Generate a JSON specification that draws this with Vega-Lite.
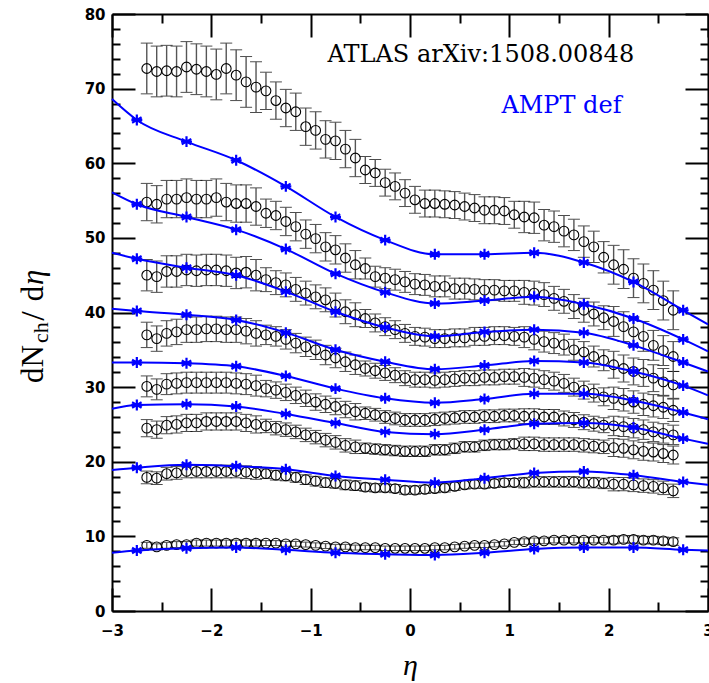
{
"$schema":"https://vega.github.io/schema/vega-lite/v6.json",
"width":596,"height":597,
"autosize":{"type":"none"},
"padding":{"left":112,"top":14,"right":1,"bottom":72},
"background":"white",
"config":{"view":{"stroke":null},"axis":{"grid":false,"domainColor":"black","domainWidth":2,"tickColor":"black","tickWidth":2,"labelFont":"DejaVu Sans","labelFontWeight":"bold","labelFontSize":15,"labelColor":"black","labelFlush":false,"labelOverlap":false}},
"datasets":{
"atlas":[
{"s":1,"x":-2.65,"y":72.7,"e":3.4},{"s":1,"x":-2.55,"y":72.3,"e":3.4},{"s":1,"x":-2.45,"y":72.4,"e":3.4},{"s":1,"x":-2.35,"y":72.3,"e":3.4},{"s":1,"x":-2.25,"y":72.9,"e":3.4},{"s":1,"x":-2.15,"y":72.6,"e":3.4},{"s":1,"x":-2.05,"y":72.3,"e":3.4},{"s":1,"x":-1.95,"y":71.9,"e":3.4},{"s":1,"x":-1.85,"y":72.7,"e":3.4},{"s":1,"x":-1.75,"y":71.8,"e":3.4},{"s":1,"x":-1.65,"y":70.9,"e":3.4},{"s":1,"x":-1.55,"y":70.2,"e":3.4},{"s":1,"x":-1.45,"y":69.7,"e":2.5},{"s":1,"x":-1.35,"y":68.4,"e":2.5},{"s":1,"x":-1.25,"y":67.4,"e":2.5},{"s":1,"x":-1.15,"y":66.9,"e":2.5},{"s":1,"x":-1.05,"y":64.9,"e":2.5},{"s":1,"x":-0.95,"y":64.4,"e":2.5},{"s":1,"x":-0.85,"y":63.2,"e":2.5},{"s":1,"x":-0.75,"y":63.0,"e":2.5},{"s":1,"x":-0.65,"y":61.9,"e":2.5},{"s":1,"x":-0.55,"y":60.7,"e":2.5},{"s":1,"x":-0.45,"y":59.1,"e":1.8},{"s":1,"x":-0.35,"y":58.7,"e":1.8},{"s":1,"x":-0.25,"y":57.4,"e":1.8},{"s":1,"x":-0.15,"y":56.9,"e":1.8},{"s":1,"x":-0.05,"y":56.0,"e":1.8},{"s":1,"x":0.05,"y":55.1,"e":1.8},{"s":1,"x":0.15,"y":54.6,"e":1.8},{"s":1,"x":0.25,"y":54.6,"e":1.8},{"s":1,"x":0.35,"y":54.5,"e":1.8},{"s":1,"x":0.45,"y":54.4,"e":1.8},{"s":1,"x":0.55,"y":54.2,"e":1.8},{"s":1,"x":0.65,"y":54.0,"e":1.8},{"s":1,"x":0.75,"y":53.7,"e":1.8},{"s":1,"x":0.85,"y":53.7,"e":1.8},{"s":1,"x":0.95,"y":53.6,"e":1.8},{"s":1,"x":1.05,"y":53.1,"e":1.8},{"s":1,"x":1.15,"y":52.8,"e":2.1},{"s":1,"x":1.25,"y":52.7,"e":2.1},{"s":1,"x":1.35,"y":51.7,"e":2.1},{"s":1,"x":1.45,"y":51.5,"e":2.1},{"s":1,"x":1.55,"y":50.9,"e":2.1},{"s":1,"x":1.65,"y":50.4,"e":2.1},{"s":1,"x":1.75,"y":49.5,"e":2.1},{"s":1,"x":1.85,"y":48.8,"e":2.1},{"s":1,"x":1.95,"y":47.4,"e":2.1},{"s":1,"x":2.05,"y":46.4,"e":2.6},{"s":1,"x":2.15,"y":45.8,"e":2.6},{"s":1,"x":2.25,"y":44.6,"e":2.6},{"s":1,"x":2.35,"y":43.9,"e":2.6},{"s":1,"x":2.45,"y":43.0,"e":2.6},{"s":1,"x":2.55,"y":41.6,"e":2.6},{"s":1,"x":2.65,"y":40.3,"e":2.6},
{"s":2,"x":-2.65,"y":54.8,"e":2.5},{"s":2,"x":-2.55,"y":54.5,"e":2.5},{"s":2,"x":-2.45,"y":55.2,"e":2.5},{"s":2,"x":-2.35,"y":55.2,"e":2.5},{"s":2,"x":-2.25,"y":55.4,"e":2.5},{"s":2,"x":-2.15,"y":55.2,"e":2.5},{"s":2,"x":-2.05,"y":55.2,"e":2.5},{"s":2,"x":-1.95,"y":55.4,"e":2.5},{"s":2,"x":-1.85,"y":54.8,"e":2.5},{"s":2,"x":-1.75,"y":54.6,"e":2.5},{"s":2,"x":-1.65,"y":54.6,"e":2.5},{"s":2,"x":-1.55,"y":54.2,"e":2.5},{"s":2,"x":-1.45,"y":53.3,"e":1.9},{"s":2,"x":-1.35,"y":53.0,"e":1.9},{"s":2,"x":-1.25,"y":52.2,"e":1.9},{"s":2,"x":-1.15,"y":51.5,"e":1.9},{"s":2,"x":-1.05,"y":50.5,"e":1.9},{"s":2,"x":-0.95,"y":49.9,"e":1.9},{"s":2,"x":-0.85,"y":48.8,"e":1.9},{"s":2,"x":-0.75,"y":48.4,"e":1.9},{"s":2,"x":-0.65,"y":47.3,"e":1.9},{"s":2,"x":-0.55,"y":46.4,"e":1.9},{"s":2,"x":-0.45,"y":45.9,"e":1.4},{"s":2,"x":-0.35,"y":44.8,"e":1.4},{"s":2,"x":-0.25,"y":44.6,"e":1.4},{"s":2,"x":-0.15,"y":44.4,"e":1.4},{"s":2,"x":-0.05,"y":44.1,"e":1.4},{"s":2,"x":0.05,"y":43.8,"e":1.4},{"s":2,"x":0.15,"y":43.7,"e":1.4},{"s":2,"x":0.25,"y":43.5,"e":1.4},{"s":2,"x":0.35,"y":43.5,"e":1.4},{"s":2,"x":0.45,"y":43.2,"e":1.4},{"s":2,"x":0.55,"y":43.2,"e":1.4},{"s":2,"x":0.65,"y":43.1,"e":1.4},{"s":2,"x":0.75,"y":43.0,"e":1.4},{"s":2,"x":0.85,"y":43.0,"e":1.4},{"s":2,"x":0.95,"y":42.9,"e":1.4},{"s":2,"x":1.05,"y":42.9,"e":1.4},{"s":2,"x":1.15,"y":42.7,"e":1.6},{"s":2,"x":1.25,"y":42.6,"e":1.6},{"s":2,"x":1.35,"y":42.4,"e":1.6},{"s":2,"x":1.45,"y":41.9,"e":1.6},{"s":2,"x":1.55,"y":41.5,"e":1.6},{"s":2,"x":1.65,"y":40.8,"e":1.6},{"s":2,"x":1.75,"y":40.3,"e":1.6},{"s":2,"x":1.85,"y":39.8,"e":1.6},{"s":2,"x":1.95,"y":39.3,"e":1.6},{"s":2,"x":2.05,"y":38.8,"e":2.0},{"s":2,"x":2.15,"y":38.1,"e":2.0},{"s":2,"x":2.25,"y":37.4,"e":2.0},{"s":2,"x":2.35,"y":36.8,"e":2.0},{"s":2,"x":2.45,"y":35.6,"e":2.0},{"s":2,"x":2.55,"y":34.9,"e":2.0},{"s":2,"x":2.65,"y":34.1,"e":2.0},
{"s":3,"x":-2.65,"y":45.0,"e":2.1},{"s":3,"x":-2.55,"y":44.8,"e":2.1},{"s":3,"x":-2.45,"y":45.5,"e":2.1},{"s":3,"x":-2.35,"y":45.5,"e":2.1},{"s":3,"x":-2.25,"y":45.7,"e":2.1},{"s":3,"x":-2.15,"y":45.6,"e":2.1},{"s":3,"x":-2.05,"y":45.7,"e":2.1},{"s":3,"x":-1.95,"y":45.7,"e":2.1},{"s":3,"x":-1.85,"y":45.6,"e":2.1},{"s":3,"x":-1.75,"y":45.3,"e":2.1},{"s":3,"x":-1.65,"y":45.4,"e":2.1},{"s":3,"x":-1.55,"y":45.0,"e":2.1},{"s":3,"x":-1.45,"y":44.4,"e":1.6},{"s":3,"x":-1.35,"y":44.0,"e":1.6},{"s":3,"x":-1.25,"y":43.7,"e":1.6},{"s":3,"x":-1.15,"y":43.1,"e":1.6},{"s":3,"x":-1.05,"y":42.6,"e":1.6},{"s":3,"x":-0.95,"y":42.1,"e":1.6},{"s":3,"x":-0.85,"y":41.7,"e":1.6},{"s":3,"x":-0.75,"y":41.0,"e":1.6},{"s":3,"x":-0.65,"y":40.1,"e":1.6},{"s":3,"x":-0.55,"y":39.7,"e":1.6},{"s":3,"x":-0.45,"y":39.2,"e":1.2},{"s":3,"x":-0.35,"y":38.6,"e":1.2},{"s":3,"x":-0.25,"y":38.1,"e":1.2},{"s":3,"x":-0.15,"y":37.7,"e":1.2},{"s":3,"x":-0.05,"y":37.2,"e":1.2},{"s":3,"x":0.05,"y":36.8,"e":1.2},{"s":3,"x":0.15,"y":36.7,"e":1.2},{"s":3,"x":0.25,"y":36.5,"e":1.2},{"s":3,"x":0.35,"y":36.5,"e":1.2},{"s":3,"x":0.45,"y":36.6,"e":1.2},{"s":3,"x":0.55,"y":36.6,"e":1.2},{"s":3,"x":0.65,"y":36.8,"e":1.2},{"s":3,"x":0.75,"y":36.8,"e":1.2},{"s":3,"x":0.85,"y":36.9,"e":1.2},{"s":3,"x":0.95,"y":36.9,"e":1.2},{"s":3,"x":1.05,"y":36.8,"e":1.2},{"s":3,"x":1.15,"y":36.7,"e":1.4},{"s":3,"x":1.25,"y":36.4,"e":1.4},{"s":3,"x":1.35,"y":36.1,"e":1.4},{"s":3,"x":1.45,"y":35.9,"e":1.4},{"s":3,"x":1.55,"y":35.7,"e":1.4},{"s":3,"x":1.65,"y":35.0,"e":1.4},{"s":3,"x":1.75,"y":34.7,"e":1.4},{"s":3,"x":1.85,"y":34.1,"e":1.4},{"s":3,"x":1.95,"y":33.6,"e":1.4},{"s":3,"x":2.05,"y":33.0,"e":1.8},{"s":3,"x":2.15,"y":32.5,"e":1.8},{"s":3,"x":2.25,"y":32.1,"e":1.8},{"s":3,"x":2.35,"y":31.9,"e":1.8},{"s":3,"x":2.45,"y":31.2,"e":1.8},{"s":3,"x":2.55,"y":30.7,"e":1.8},{"s":3,"x":2.65,"y":30.3,"e":1.8},
{"s":4,"x":-2.65,"y":37.0,"e":1.7},{"s":4,"x":-2.55,"y":36.5,"e":1.7},{"s":4,"x":-2.45,"y":37.2,"e":1.7},{"s":4,"x":-2.35,"y":37.4,"e":1.7},{"s":4,"x":-2.25,"y":37.7,"e":1.7},{"s":4,"x":-2.15,"y":37.7,"e":1.7},{"s":4,"x":-2.05,"y":37.8,"e":1.7},{"s":4,"x":-1.95,"y":37.8,"e":1.7},{"s":4,"x":-1.85,"y":37.7,"e":1.7},{"s":4,"x":-1.75,"y":37.7,"e":1.7},{"s":4,"x":-1.65,"y":37.5,"e":1.7},{"s":4,"x":-1.55,"y":37.2,"e":1.7},{"s":4,"x":-1.45,"y":37.0,"e":1.3},{"s":4,"x":-1.35,"y":36.8,"e":1.3},{"s":4,"x":-1.25,"y":36.4,"e":1.3},{"s":4,"x":-1.15,"y":35.9,"e":1.3},{"s":4,"x":-1.05,"y":35.4,"e":1.3},{"s":4,"x":-0.95,"y":35.0,"e":1.3},{"s":4,"x":-0.85,"y":34.3,"e":1.3},{"s":4,"x":-0.75,"y":33.9,"e":1.3},{"s":4,"x":-0.65,"y":33.4,"e":1.3},{"s":4,"x":-0.55,"y":33.0,"e":1.3},{"s":4,"x":-0.45,"y":32.5,"e":1.0},{"s":4,"x":-0.35,"y":32.2,"e":1.0},{"s":4,"x":-0.25,"y":31.9,"e":1.0},{"s":4,"x":-0.15,"y":31.6,"e":1.0},{"s":4,"x":-0.05,"y":31.2,"e":1.0},{"s":4,"x":0.05,"y":31.0,"e":1.0},{"s":4,"x":0.15,"y":31.0,"e":1.0},{"s":4,"x":0.25,"y":30.9,"e":1.0},{"s":4,"x":0.35,"y":31.0,"e":1.0},{"s":4,"x":0.45,"y":31.1,"e":1.0},{"s":4,"x":0.55,"y":31.2,"e":1.0},{"s":4,"x":0.65,"y":31.2,"e":1.0},{"s":4,"x":0.75,"y":31.3,"e":1.0},{"s":4,"x":0.85,"y":31.3,"e":1.0},{"s":4,"x":0.95,"y":31.4,"e":1.0},{"s":4,"x":1.05,"y":31.4,"e":1.0},{"s":4,"x":1.15,"y":31.3,"e":1.2},{"s":4,"x":1.25,"y":31.2,"e":1.2},{"s":4,"x":1.35,"y":31.0,"e":1.2},{"s":4,"x":1.45,"y":30.8,"e":1.2},{"s":4,"x":1.55,"y":30.5,"e":1.2},{"s":4,"x":1.65,"y":30.0,"e":1.2},{"s":4,"x":1.75,"y":29.6,"e":1.2},{"s":4,"x":1.85,"y":29.2,"e":1.2},{"s":4,"x":1.95,"y":28.7,"e":1.2},{"s":4,"x":2.05,"y":28.5,"e":1.5},{"s":4,"x":2.15,"y":28.3,"e":1.5},{"s":4,"x":2.25,"y":28.0,"e":1.5},{"s":4,"x":2.35,"y":27.7,"e":1.5},{"s":4,"x":2.45,"y":27.5,"e":1.5},{"s":4,"x":2.55,"y":27.3,"e":1.5},{"s":4,"x":2.65,"y":26.9,"e":1.5},
{"s":5,"x":-2.65,"y":30.1,"e":1.4},{"s":5,"x":-2.55,"y":29.7,"e":1.4},{"s":5,"x":-2.45,"y":30.4,"e":1.4},{"s":5,"x":-2.35,"y":30.5,"e":1.4},{"s":5,"x":-2.25,"y":30.6,"e":1.4},{"s":5,"x":-2.15,"y":30.6,"e":1.4},{"s":5,"x":-2.05,"y":30.6,"e":1.4},{"s":5,"x":-1.95,"y":30.6,"e":1.4},{"s":5,"x":-1.85,"y":30.6,"e":1.4},{"s":5,"x":-1.75,"y":30.5,"e":1.4},{"s":5,"x":-1.65,"y":30.4,"e":1.4},{"s":5,"x":-1.55,"y":30.2,"e":1.4},{"s":5,"x":-1.45,"y":29.8,"e":1.1},{"s":5,"x":-1.35,"y":29.6,"e":1.1},{"s":5,"x":-1.25,"y":29.3,"e":1.1},{"s":5,"x":-1.15,"y":28.9,"e":1.1},{"s":5,"x":-1.05,"y":28.5,"e":1.1},{"s":5,"x":-0.95,"y":28.0,"e":1.1},{"s":5,"x":-0.85,"y":27.7,"e":1.1},{"s":5,"x":-0.75,"y":27.4,"e":1.1},{"s":5,"x":-0.65,"y":27.0,"e":1.1},{"s":5,"x":-0.55,"y":26.7,"e":1.1},{"s":5,"x":-0.45,"y":26.5,"e":0.85},{"s":5,"x":-0.35,"y":26.3,"e":0.85},{"s":5,"x":-0.25,"y":26.0,"e":0.85},{"s":5,"x":-0.15,"y":25.8,"e":0.85},{"s":5,"x":-0.05,"y":25.6,"e":0.85},{"s":5,"x":0.05,"y":25.6,"e":0.85},{"s":5,"x":0.15,"y":25.6,"e":0.85},{"s":5,"x":0.25,"y":25.7,"e":0.85},{"s":5,"x":0.35,"y":25.8,"e":0.85},{"s":5,"x":0.45,"y":25.9,"e":0.85},{"s":5,"x":0.55,"y":26.0,"e":0.85},{"s":5,"x":0.65,"y":26.0,"e":0.85},{"s":5,"x":0.75,"y":26.1,"e":0.85},{"s":5,"x":0.85,"y":26.1,"e":0.85},{"s":5,"x":0.95,"y":26.2,"e":0.85},{"s":5,"x":1.05,"y":26.2,"e":0.85},{"s":5,"x":1.15,"y":26.1,"e":1.0},{"s":5,"x":1.25,"y":26.1,"e":1.0},{"s":5,"x":1.35,"y":26.0,"e":1.0},{"s":5,"x":1.45,"y":26.0,"e":1.0},{"s":5,"x":1.55,"y":25.8,"e":1.0},{"s":5,"x":1.65,"y":25.6,"e":1.0},{"s":5,"x":1.75,"y":25.3,"e":1.0},{"s":5,"x":1.85,"y":25.1,"e":1.0},{"s":5,"x":1.95,"y":24.9,"e":1.0},{"s":5,"x":2.05,"y":24.8,"e":1.3},{"s":5,"x":2.15,"y":24.7,"e":1.3},{"s":5,"x":2.25,"y":24.5,"e":1.3},{"s":5,"x":2.35,"y":24.3,"e":1.3},{"s":5,"x":2.45,"y":24.0,"e":1.3},{"s":5,"x":2.55,"y":23.8,"e":1.3},{"s":5,"x":2.65,"y":23.6,"e":1.3},
{"s":6,"x":-2.65,"y":24.5,"e":1.15},{"s":6,"x":-2.55,"y":24.3,"e":1.15},{"s":6,"x":-2.45,"y":24.9,"e":1.15},{"s":6,"x":-2.35,"y":25.0,"e":1.15},{"s":6,"x":-2.25,"y":25.2,"e":1.15},{"s":6,"x":-2.15,"y":25.2,"e":1.15},{"s":6,"x":-2.05,"y":25.4,"e":1.15},{"s":6,"x":-1.95,"y":25.4,"e":1.15},{"s":6,"x":-1.85,"y":25.4,"e":1.15},{"s":6,"x":-1.75,"y":25.4,"e":1.15},{"s":6,"x":-1.65,"y":25.2,"e":1.15},{"s":6,"x":-1.55,"y":25.0,"e":1.15},{"s":6,"x":-1.45,"y":24.8,"e":0.9},{"s":6,"x":-1.35,"y":24.5,"e":0.9},{"s":6,"x":-1.25,"y":24.3,"e":0.9},{"s":6,"x":-1.15,"y":24.0,"e":0.9},{"s":6,"x":-1.05,"y":23.6,"e":0.9},{"s":6,"x":-0.95,"y":23.3,"e":0.9},{"s":6,"x":-0.85,"y":22.9,"e":0.9},{"s":6,"x":-0.75,"y":22.6,"e":0.9},{"s":6,"x":-0.65,"y":22.2,"e":0.9},{"s":6,"x":-0.55,"y":22.0,"e":0.9},{"s":6,"x":-0.45,"y":21.8,"e":0.7},{"s":6,"x":-0.35,"y":21.7,"e":0.7},{"s":6,"x":-0.25,"y":21.6,"e":0.7},{"s":6,"x":-0.15,"y":21.5,"e":0.7},{"s":6,"x":-0.05,"y":21.4,"e":0.7},{"s":6,"x":0.05,"y":21.4,"e":0.7},{"s":6,"x":0.15,"y":21.4,"e":0.7},{"s":6,"x":0.25,"y":21.6,"e":0.7},{"s":6,"x":0.35,"y":21.6,"e":0.7},{"s":6,"x":0.45,"y":21.8,"e":0.7},{"s":6,"x":0.55,"y":22.0,"e":0.7},{"s":6,"x":0.65,"y":22.0,"e":0.7},{"s":6,"x":0.75,"y":22.2,"e":0.7},{"s":6,"x":0.85,"y":22.3,"e":0.7},{"s":6,"x":0.95,"y":22.3,"e":0.7},{"s":6,"x":1.05,"y":22.4,"e":0.7},{"s":6,"x":1.15,"y":22.4,"e":0.9},{"s":6,"x":1.25,"y":22.4,"e":0.9},{"s":6,"x":1.35,"y":22.3,"e":0.9},{"s":6,"x":1.45,"y":22.3,"e":0.9},{"s":6,"x":1.55,"y":22.3,"e":0.9},{"s":6,"x":1.65,"y":22.3,"e":0.9},{"s":6,"x":1.75,"y":22.2,"e":0.9},{"s":6,"x":1.85,"y":22.1,"e":0.9},{"s":6,"x":1.95,"y":22.0,"e":0.9},{"s":6,"x":2.05,"y":21.9,"e":1.2},{"s":6,"x":2.15,"y":21.8,"e":1.2},{"s":6,"x":2.25,"y":21.6,"e":1.2},{"s":6,"x":2.35,"y":21.4,"e":1.2},{"s":6,"x":2.45,"y":21.3,"e":1.2},{"s":6,"x":2.55,"y":21.1,"e":1.2},{"s":6,"x":2.65,"y":20.9,"e":1.2},
{"s":7,"x":-2.65,"y":17.9,"e":0.85},{"s":7,"x":-2.55,"y":17.8,"e":0.85},{"s":7,"x":-2.45,"y":18.4,"e":0.85},{"s":7,"x":-2.35,"y":18.5,"e":0.85},{"s":7,"x":-2.25,"y":18.7,"e":0.85},{"s":7,"x":-2.15,"y":18.7,"e":0.85},{"s":7,"x":-2.05,"y":18.7,"e":0.85},{"s":7,"x":-1.95,"y":18.7,"e":0.85},{"s":7,"x":-1.85,"y":18.7,"e":0.85},{"s":7,"x":-1.75,"y":18.7,"e":0.85},{"s":7,"x":-1.65,"y":18.6,"e":0.85},{"s":7,"x":-1.55,"y":18.5,"e":0.85},{"s":7,"x":-1.45,"y":18.4,"e":0.65},{"s":7,"x":-1.35,"y":18.2,"e":0.65},{"s":7,"x":-1.25,"y":18.1,"e":0.65},{"s":7,"x":-1.15,"y":17.9,"e":0.65},{"s":7,"x":-1.05,"y":17.6,"e":0.65},{"s":7,"x":-0.95,"y":17.4,"e":0.65},{"s":7,"x":-0.85,"y":17.2,"e":0.65},{"s":7,"x":-0.75,"y":17.1,"e":0.65},{"s":7,"x":-0.65,"y":16.9,"e":0.65},{"s":7,"x":-0.55,"y":16.8,"e":0.65},{"s":7,"x":-0.45,"y":16.6,"e":0.55},{"s":7,"x":-0.35,"y":16.5,"e":0.55},{"s":7,"x":-0.25,"y":16.5,"e":0.55},{"s":7,"x":-0.15,"y":16.4,"e":0.55},{"s":7,"x":-0.05,"y":16.2,"e":0.55},{"s":7,"x":0.05,"y":16.2,"e":0.55},{"s":7,"x":0.15,"y":16.3,"e":0.55},{"s":7,"x":0.25,"y":16.4,"e":0.55},{"s":7,"x":0.35,"y":16.5,"e":0.55},{"s":7,"x":0.45,"y":16.7,"e":0.55},{"s":7,"x":0.55,"y":16.9,"e":0.55},{"s":7,"x":0.65,"y":17.0,"e":0.55},{"s":7,"x":0.75,"y":17.0,"e":0.55},{"s":7,"x":0.85,"y":17.1,"e":0.55},{"s":7,"x":0.95,"y":17.2,"e":0.55},{"s":7,"x":1.05,"y":17.2,"e":0.55},{"s":7,"x":1.15,"y":17.2,"e":0.7},{"s":7,"x":1.25,"y":17.3,"e":0.7},{"s":7,"x":1.35,"y":17.3,"e":0.7},{"s":7,"x":1.45,"y":17.3,"e":0.7},{"s":7,"x":1.55,"y":17.3,"e":0.7},{"s":7,"x":1.65,"y":17.3,"e":0.7},{"s":7,"x":1.75,"y":17.2,"e":0.7},{"s":7,"x":1.85,"y":17.2,"e":0.7},{"s":7,"x":1.95,"y":17.1,"e":0.7},{"s":7,"x":2.05,"y":17.0,"e":0.9},{"s":7,"x":2.15,"y":17.0,"e":0.9},{"s":7,"x":2.25,"y":16.9,"e":0.9},{"s":7,"x":2.35,"y":16.8,"e":0.9},{"s":7,"x":2.45,"y":16.7,"e":0.9},{"s":7,"x":2.55,"y":16.5,"e":0.9},{"s":7,"x":2.65,"y":16.1,"e":0.9},
{"s":8,"x":-2.65,"y":8.8,"e":0.4},{"s":8,"x":-2.55,"y":8.6,"e":0.4},{"s":8,"x":-2.45,"y":8.8,"e":0.4},{"s":8,"x":-2.35,"y":8.9,"e":0.4},{"s":8,"x":-2.25,"y":8.9,"e":0.4},{"s":8,"x":-2.15,"y":9.1,"e":0.4},{"s":8,"x":-2.05,"y":9.1,"e":0.4},{"s":8,"x":-1.95,"y":9.1,"e":0.4},{"s":8,"x":-1.85,"y":9.1,"e":0.4},{"s":8,"x":-1.75,"y":9.1,"e":0.4},{"s":8,"x":-1.65,"y":9.1,"e":0.4},{"s":8,"x":-1.55,"y":9.1,"e":0.4},{"s":8,"x":-1.45,"y":9.1,"e":0.33},{"s":8,"x":-1.35,"y":9.1,"e":0.33},{"s":8,"x":-1.25,"y":9.0,"e":0.33},{"s":8,"x":-1.15,"y":9.0,"e":0.33},{"s":8,"x":-1.05,"y":8.9,"e":0.33},{"s":8,"x":-0.95,"y":8.8,"e":0.33},{"s":8,"x":-0.85,"y":8.7,"e":0.33},{"s":8,"x":-0.75,"y":8.6,"e":0.33},{"s":8,"x":-0.65,"y":8.6,"e":0.33},{"s":8,"x":-0.55,"y":8.5,"e":0.33},{"s":8,"x":-0.45,"y":8.5,"e":0.3},{"s":8,"x":-0.35,"y":8.5,"e":0.3},{"s":8,"x":-0.25,"y":8.4,"e":0.3},{"s":8,"x":-0.15,"y":8.4,"e":0.3},{"s":8,"x":-0.05,"y":8.4,"e":0.3},{"s":8,"x":0.05,"y":8.4,"e":0.3},{"s":8,"x":0.15,"y":8.4,"e":0.3},{"s":8,"x":0.25,"y":8.5,"e":0.3},{"s":8,"x":0.35,"y":8.5,"e":0.3},{"s":8,"x":0.45,"y":8.6,"e":0.3},{"s":8,"x":0.55,"y":8.7,"e":0.3},{"s":8,"x":0.65,"y":8.8,"e":0.3},{"s":8,"x":0.75,"y":8.8,"e":0.3},{"s":8,"x":0.85,"y":8.9,"e":0.3},{"s":8,"x":0.95,"y":9.0,"e":0.3},{"s":8,"x":1.05,"y":9.2,"e":0.3},{"s":8,"x":1.15,"y":9.3,"e":0.38},{"s":8,"x":1.25,"y":9.4,"e":0.38},{"s":8,"x":1.35,"y":9.4,"e":0.38},{"s":8,"x":1.45,"y":9.5,"e":0.38},{"s":8,"x":1.55,"y":9.5,"e":0.38},{"s":8,"x":1.65,"y":9.5,"e":0.38},{"s":8,"x":1.75,"y":9.5,"e":0.38},{"s":8,"x":1.85,"y":9.5,"e":0.38},{"s":8,"x":1.95,"y":9.5,"e":0.38},{"s":8,"x":2.05,"y":9.5,"e":0.5},{"s":8,"x":2.15,"y":9.6,"e":0.5},{"s":8,"x":2.25,"y":9.6,"e":0.5},{"s":8,"x":2.35,"y":9.5,"e":0.5},{"s":8,"x":2.45,"y":9.5,"e":0.5},{"s":8,"x":2.55,"y":9.4,"e":0.5},{"s":8,"x":2.65,"y":9.3,"e":0.5}
],
"ampt":[
{"s":1,"x":-3,"y":68.6},{"s":1,"x":-2.75,"y":65.8},{"s":1,"x":-2.25,"y":62.9},{"s":1,"x":-1.75,"y":60.4},{"s":1,"x":-1.25,"y":56.9},{"s":1,"x":-0.75,"y":52.8},{"s":1,"x":-0.25,"y":49.7},{"s":1,"x":0.25,"y":47.8},{"s":1,"x":0.75,"y":47.8},{"s":1,"x":1.25,"y":48.0},{"s":1,"x":1.75,"y":46.7},{"s":1,"x":2.25,"y":44.1},{"s":1,"x":2.75,"y":40.3},{"s":1,"x":3,"y":38.4},
{"s":2,"x":-3,"y":56.1},{"s":2,"x":-2.75,"y":54.5},{"s":2,"x":-2.25,"y":52.8},{"s":2,"x":-1.75,"y":51.1},{"s":2,"x":-1.25,"y":48.5},{"s":2,"x":-0.75,"y":45.2},{"s":2,"x":-0.25,"y":42.7},{"s":2,"x":0.25,"y":41.2},{"s":2,"x":0.75,"y":41.6},{"s":2,"x":1.25,"y":42.1},{"s":2,"x":1.75,"y":41.1},{"s":2,"x":2.25,"y":39.2},{"s":2,"x":2.75,"y":36.4},{"s":2,"x":3,"y":34.8},
{"s":3,"x":-3,"y":48.0},{"s":3,"x":-2.75,"y":47.2},{"s":3,"x":-2.25,"y":46.0},{"s":3,"x":-1.75,"y":45.0},{"s":3,"x":-1.25,"y":42.8},{"s":3,"x":-0.75,"y":40.1},{"s":3,"x":-0.25,"y":38.0},{"s":3,"x":0.25,"y":36.8},{"s":3,"x":0.75,"y":37.4},{"s":3,"x":1.25,"y":37.7},{"s":3,"x":1.75,"y":37.3},{"s":3,"x":2.25,"y":35.6},{"s":3,"x":2.75,"y":33.3},{"s":3,"x":3,"y":32.1},
{"s":4,"x":-3,"y":40.5},{"s":4,"x":-2.75,"y":40.2},{"s":4,"x":-2.25,"y":39.7},{"s":4,"x":-1.75,"y":39.0},{"s":4,"x":-1.25,"y":37.3},{"s":4,"x":-0.75,"y":35.0},{"s":4,"x":-0.25,"y":33.4},{"s":4,"x":0.25,"y":32.4},{"s":4,"x":0.75,"y":32.9},{"s":4,"x":1.25,"y":33.5},{"s":4,"x":1.75,"y":33.3},{"s":4,"x":2.25,"y":32.1},{"s":4,"x":2.75,"y":30.2},{"s":4,"x":3,"y":28.9},
{"s":5,"x":-3,"y":33.3},{"s":5,"x":-2.75,"y":33.3},{"s":5,"x":-2.25,"y":33.2},{"s":5,"x":-1.75,"y":32.8},{"s":5,"x":-1.25,"y":31.5},{"s":5,"x":-0.75,"y":29.8},{"s":5,"x":-0.25,"y":28.5},{"s":5,"x":0.25,"y":27.9},{"s":5,"x":0.75,"y":28.4},{"s":5,"x":1.25,"y":29.1},{"s":5,"x":1.75,"y":29.1},{"s":5,"x":2.25,"y":28.2},{"s":5,"x":2.75,"y":26.6},{"s":5,"x":3,"y":25.7},
{"s":6,"x":-3,"y":27.1},{"s":6,"x":-2.75,"y":27.6},{"s":6,"x":-2.25,"y":27.7},{"s":6,"x":-1.75,"y":27.4},{"s":6,"x":-1.25,"y":26.4},{"s":6,"x":-0.75,"y":25.2},{"s":6,"x":-0.25,"y":24.0},{"s":6,"x":0.25,"y":23.7},{"s":6,"x":0.75,"y":24.3},{"s":6,"x":1.25,"y":25.1},{"s":6,"x":1.75,"y":25.2},{"s":6,"x":2.25,"y":24.6},{"s":6,"x":2.75,"y":23.1},{"s":6,"x":3,"y":22.4},
{"s":7,"x":-3,"y":18.9},{"s":7,"x":-2.75,"y":19.2},{"s":7,"x":-2.25,"y":19.6},{"s":7,"x":-1.75,"y":19.4},{"s":7,"x":-1.25,"y":19.0},{"s":7,"x":-0.75,"y":18.1},{"s":7,"x":-0.25,"y":17.6},{"s":7,"x":0.25,"y":17.2},{"s":7,"x":0.75,"y":17.8},{"s":7,"x":1.25,"y":18.5},{"s":7,"x":1.75,"y":18.7},{"s":7,"x":2.25,"y":18.2},{"s":7,"x":2.75,"y":17.3},{"s":7,"x":3,"y":16.9},
{"s":8,"x":-3,"y":7.8},{"s":8,"x":-2.75,"y":8.1},{"s":8,"x":-2.25,"y":8.4},{"s":8,"x":-1.75,"y":8.5},{"s":8,"x":-1.25,"y":8.2},{"s":8,"x":-0.75,"y":7.8},{"s":8,"x":-0.25,"y":7.6},{"s":8,"x":0.25,"y":7.5},{"s":8,"x":0.75,"y":7.8},{"s":8,"x":1.25,"y":8.3},{"s":8,"x":1.75,"y":8.5},{"s":8,"x":2.25,"y":8.5},{"s":8,"x":2.75,"y":8.2},{"s":8,"x":3,"y":8.1}
]
},
"resolve":{"axis":{"x":"independent","y":"independent"}},
"layer":[
{"data":{"name":"atlas"},
 "mark":{"type":"errorbar","ticks":{"size":12,"color":"black","strokeWidth":1.2},"rule":{"color":"#555555","strokeWidth":1.4}},
 "encoding":{
  "x":{"field":"x","type":"quantitative","scale":{"domain":[-3,3],"nice":false,"zero":false},"axis":null},
  "y":{"field":"y","type":"quantitative","scale":{"domain":[0,80],"nice":false},"axis":null},
  "yError":{"field":"e"},
  "detail":{"field":"s","type":"nominal"}}},
{"data":{"name":"atlas"},
 "mark":{"type":"point","shape":"circle","filled":false,"stroke":"black","strokeWidth":1.1,"size":95,"opacity":1},
 "encoding":{
  "x":{"field":"x","type":"quantitative","scale":{"domain":[-3,3],"nice":false,"zero":false},
   "axis":{"orient":"bottom","values":[-3,-2.5,-2,-1.5,-1,-0.5,0,0.5,1,1.5,2,2.5,3],"format":".0f","tickSize":{"condition":{"test":"datum.value % 1 === 0","value":-23},"value":-9},"labelExpr":"datum.value % 1 === 0 ? datum.label : ''","labelPadding":35,"title":"η","titleFont":"Liberation Serif","titleFontStyle":"italic","titleFontWeight":"normal","titleFontSize":30,"titlePadding":-2,"titleColor":"black"}},
  "y":{"field":"y","type":"quantitative","scale":{"domain":[0,80],"nice":false},
   "axis":{"orient":"left","values":[0,2,4,6,8,10,12,14,16,18,20,22,24,26,28,30,32,34,36,38,40,42,44,46,48,50,52,54,56,58,60,62,64,66,68,70,72,74,76,78,80],"format":".0f","tickSize":{"condition":{"test":"datum.value % 10 === 0","value":-23},"value":-8},"labelExpr":"datum.value % 10 === 0 ? datum.label : ''","labelPadding":30,"title":null}}}},
{"data":{"name":"ampt"},
 "mark":{"type":"line","color":"#0000ff","strokeWidth":2,"interpolate":"monotone"},
 "encoding":{
  "x":{"field":"x","type":"quantitative","scale":{"domain":[-3,3],"nice":false,"zero":false},
   "axis":{"orient":"top","values":[-3,-2.5,-2,-1.5,-1,-0.5,0,0.5,1,1.5,2,2.5,3],"tickSize":{"condition":{"test":"datum.value % 1 === 0","value":-23},"value":-9},"labels":false,"title":null}},
  "y":{"field":"y","type":"quantitative","scale":{"domain":[0,80],"nice":false},
   "axis":{"orient":"right","values":[0,2,4,6,8,10,12,14,16,18,20,22,24,26,28,30,32,34,36,38,40,42,44,46,48,50,52,54,56,58,60,62,64,66,68,70,72,74,76,78,80],"tickSize":{"condition":{"test":"datum.value % 10 === 0","value":-23},"value":-8},"labels":false,"title":null}},
  "detail":{"field":"s","type":"nominal"}}},
{"data":{"name":"ampt"},
 "transform":[{"filter":"datum.x > -3 && datum.x < 3"}],
 "mark":{"type":"point","shape":"M0,-1L0,1M-0.87,-0.5L0.87,0.5M-0.87,0.5L0.87,-0.5M-1,0L1,0","filled":false,"stroke":"#0000ff","strokeWidth":2.2,"size":120,"opacity":1},
 "encoding":{
  "x":{"field":"x","type":"quantitative","scale":{"domain":[-3,3],"nice":false,"zero":false},"axis":null},
  "y":{"field":"y","type":"quantitative","scale":{"domain":[0,80],"nice":false},"axis":null}}},
{"data":{"values":[{}]},
 "mark":{"type":"text","text":"ATLAS arXiv:1508.00848","font":"DejaVu Serif","fontSize":24,"align":"left","baseline":"alphabetic","color":"black"},
 "encoding":{"x":{"datum":-0.83,"type":"quantitative","scale":{"domain":[-3,3],"nice":false,"zero":false},"axis":null},"y":{"datum":73.57,"type":"quantitative","scale":{"domain":[0,80],"nice":false},"axis":null}}},
{"data":{"values":[{}]},
 "mark":{"type":"text","text":"AMPT def","font":"DejaVu Serif","fontSize":24,"align":"left","baseline":"alphabetic","color":"#0000ff"},
 "encoding":{"x":{"datum":0.92,"type":"quantitative","scale":{"domain":[-3,3],"nice":false,"zero":false},"axis":null},"y":{"datum":66.73,"type":"quantitative","scale":{"domain":[0,80],"nice":false},"axis":null}}},
{"data":{"values":[{}]},
 "mark":{"type":"text","text":"dN","font":"Liberation Serif","fontSize":31,"angle":270,"align":"left","baseline":"alphabetic","color":"black"},
 "encoding":{"x":{"datum":-3.693,"type":"quantitative","scale":{"domain":[-3,3],"nice":false,"zero":false},"axis":null},"y":{"datum":30.55,"type":"quantitative","scale":{"domain":[0,80],"nice":false},"axis":null}}},
{"data":{"values":[{}]},
 "mark":{"type":"text","text":"ch","font":"Liberation Serif","fontSize":22,"angle":270,"align":"left","baseline":"alphabetic","color":"black"},
 "encoding":{"x":{"datum":-3.643,"type":"quantitative","scale":{"domain":[-3,3],"nice":false,"zero":false},"axis":null},"y":{"datum":35.91,"type":"quantitative","scale":{"domain":[0,80],"nice":false},"axis":null}}},
{"data":{"values":[{}]},
 "mark":{"type":"text","text":"/","font":"Liberation Serif","fontSize":34,"angle":270,"align":"left","baseline":"alphabetic","color":"black"},
 "encoding":{"x":{"datum":-3.683,"type":"quantitative","scale":{"domain":[-3,3],"nice":false,"zero":false},"axis":null},"y":{"datum":38.9,"type":"quantitative","scale":{"domain":[0,80],"nice":false},"axis":null}}},
{"data":{"values":[{}]},
 "mark":{"type":"text","text":"d","font":"Liberation Serif","fontSize":31,"angle":270,"align":"left","baseline":"alphabetic","color":"black"},
 "encoding":{"x":{"datum":-3.693,"type":"quantitative","scale":{"domain":[-3,3],"nice":false,"zero":false},"axis":null},"y":{"datum":41.5,"type":"quantitative","scale":{"domain":[0,80],"nice":false},"axis":null}}},
{"data":{"values":[{}]},
 "mark":{"type":"text","text":"η","font":"Liberation Serif","fontSize":31,"fontStyle":"italic","angle":270,"align":"left","baseline":"alphabetic","color":"black"},
 "encoding":{"x":{"datum":-3.693,"type":"quantitative","scale":{"domain":[-3,3],"nice":false,"zero":false},"axis":null},"y":{"datum":43.7,"type":"quantitative","scale":{"domain":[0,80],"nice":false},"axis":null}}}
]
}
